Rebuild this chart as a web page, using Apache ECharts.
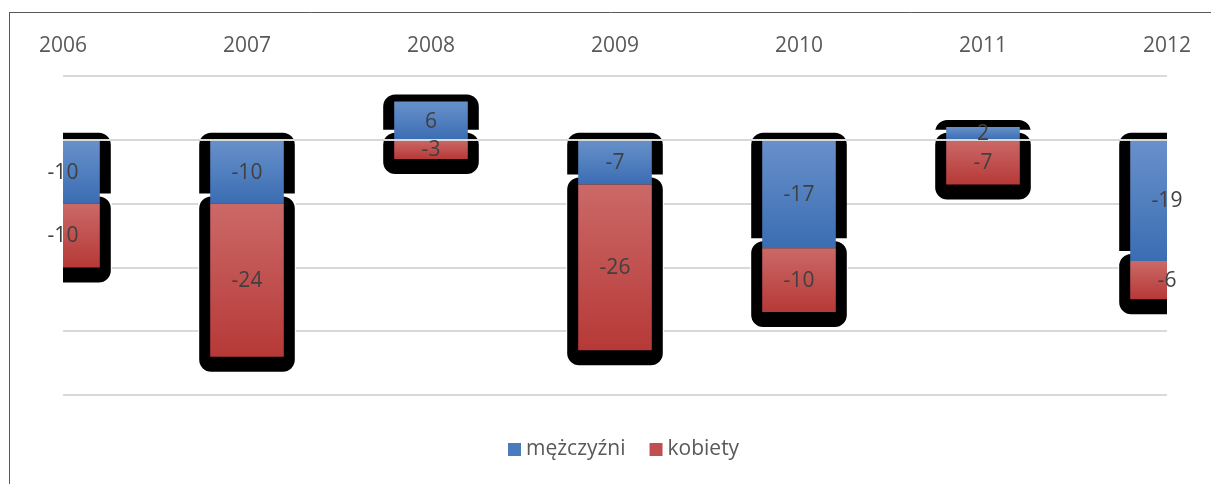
<!DOCTYPE html>
<html>
<head>
<meta charset="utf-8">
<script src="https://cdn.jsdelivr.net/npm/echarts@6/dist/echarts.min.js"></script>
<style>
  html, body { margin: 0; padding: 0; background: #fff; }
  #chart { width: 1211px; height: 484px; }
</style>
</head>
<body>
<div id="chart"></div>
<script>
// dane
const years = ['2006', '2007', '2008', '2009', '2010', '2011', '2012']
const men = [-10, -10, 6, -7, -17, 2, -19]
const women = [-10, -24, -3, -26, -10, -7, -6]

const BLUE = new echarts.graphic.LinearGradient(0, 0, 0, 1, [
  { offset: 0, color: '#6891ca' },
  { offset: 1, color: '#3b6db3' }
])
const RED = new echarts.graphic.LinearGradient(0, 0, 0, 1, [
  { offset: 0, color: '#cb6967' },
  { offset: 1, color: '#b63937' }
])

// segmenty stosu (dodatnie i ujemne osobno)
const segments = (i) => {
  let pos = 0
  let neg = 0
  return [men[i], women[i]].map(v => {
    let from
    if (v >= 0) { from = pos; pos += v } else { from = neg; neg += v }
    return { from, to: from + v, value: v }
  })
}

const renderHalo = (params, api) => {
  const i = params.dataIndex
  const bw = api.size([1, 0])[0] * 0.4
  const children = []
  segments(i).forEach((s, k) => {
    const p0 = api.coord([i, s.from])
    const p1 = api.coord([i, s.to])
    const top = Math.min(p0[1], p1[1])
    const bot = Math.max(p0[1], p1[1])
    const x = p0[0] - bw / 2
    if (k > 0) {
      children.push({
        type: 'rect',
        shape: { x: x - 12, y: top - 10, width: bw + 24, height: bot - top + 26 },
        style: { fill: '#fff' }
      })
    }
    children.push({
      type: 'rect',
      shape: { x: x - 11, y: top - 7, width: bw + 22, height: bot - top + 22, r: 12 },
      style: { fill: '#000' }
    })
  })
  return { type: 'group', children }
}

const renderLabels = (params, api) => {
  const i = params.dataIndex
  return {
    type: 'group',
    children: segments(i).map(s => {
      const p0 = api.coord([i, s.from])
      const p1 = api.coord([i, s.to])
      return {
        type: 'text',
        x: p0[0],
        y: (p0[1] + p1[1]) / 2 + 1,
        style: {
          text: String(s.value),
          fill: '#404040',
          font: '21px "Open Sans", sans-serif',
          align: 'center',
          verticalAlign: 'middle'
        }
      }
    })
  }
}

const chart = echarts.init(document.getElementById('chart'))

chart.setOption({
  animation: false,
  backgroundColor: '#fff',
  graphic: [
    { type: 'line', shape: { x1: 10, y1: 12.5, x2: 1211, y2: 12.5 }, style: { stroke: '#595959', lineWidth: 1 } },
    { type: 'line', shape: { x1: 9.5, y1: 12, x2: 9.5, y2: 484 }, style: { stroke: '#595959', lineWidth: 1 } },
    // zasłony poza obszarem wykresu
    { type: 'rect', z: 4, shape: { x: 11, y: 70, width: 52, height: 330 }, style: { fill: '#fff' } },
    { type: 'rect', z: 4, shape: { x: 1167, y: 70, width: 44, height: 330 }, style: { fill: '#fff' } }
  ],
  grid: { left: 63, right: 44, top: 76, bottom: 89 },
  legend: {
    bottom: 19,
    left: 503,
    itemWidth: 13,
    itemHeight: 13,
    itemGap: 24,
    icon: 'rect',
    textStyle: { color: '#595959', fontSize: 21, fontFamily: 'Open Sans' },
    data: [
      { name: 'mężczyźni', itemStyle: { color: '#4a7bbd' } },
      { name: 'kobiety', itemStyle: { color: '#c0504d' } }
    ]
  },
  xAxis: {
    type: 'category',
    data: years,
    position: 'top',
    boundaryGap: false,
    axisLine: { show: false },
    axisTick: { show: false },
    axisLabel: { color: '#595959', fontSize: 21, fontFamily: 'Open Sans', margin: 19 }
  },
  yAxis: {
    type: 'value',
    min: -40,
    max: 10,
    interval: 10,
    axisLabel: { show: false },
    axisLine: { show: false },
    axisTick: { show: false },
    splitLine: { lineStyle: { color: '#d9d9d9', width: 2 } }
  },
  series: [
    {
      type: 'custom',
      name: 'halo',
      renderItem: renderHalo,
      data: years.map((y, i) => i),
      clip: true,
      z: 1,
      silent: true
    },
    {
      name: 'mężczyźni',
      type: 'bar',
      stack: 'razem',
      data: men,
      barWidth: '40%',
      z: 2,
      itemStyle: { color: BLUE }
    },
    {
      name: 'kobiety',
      type: 'bar',
      stack: 'razem',
      data: women,
      barWidth: '40%',
      z: 2,
      itemStyle: { color: RED },
      markLine: {
        silent: true,
        symbol: 'none',
        label: { show: false },
        lineStyle: { color: '#d9d9d9', width: 2, type: 'solid' },
        data: [{ yAxis: 0 }]
      }
    },
    {
      type: 'custom',
      name: 'etykiety',
      renderItem: renderLabels,
      data: years.map((y, i) => i),
      clip: false,
      z: 6,
      silent: true
    }
  ]
})
</script>
</body>
</html>
